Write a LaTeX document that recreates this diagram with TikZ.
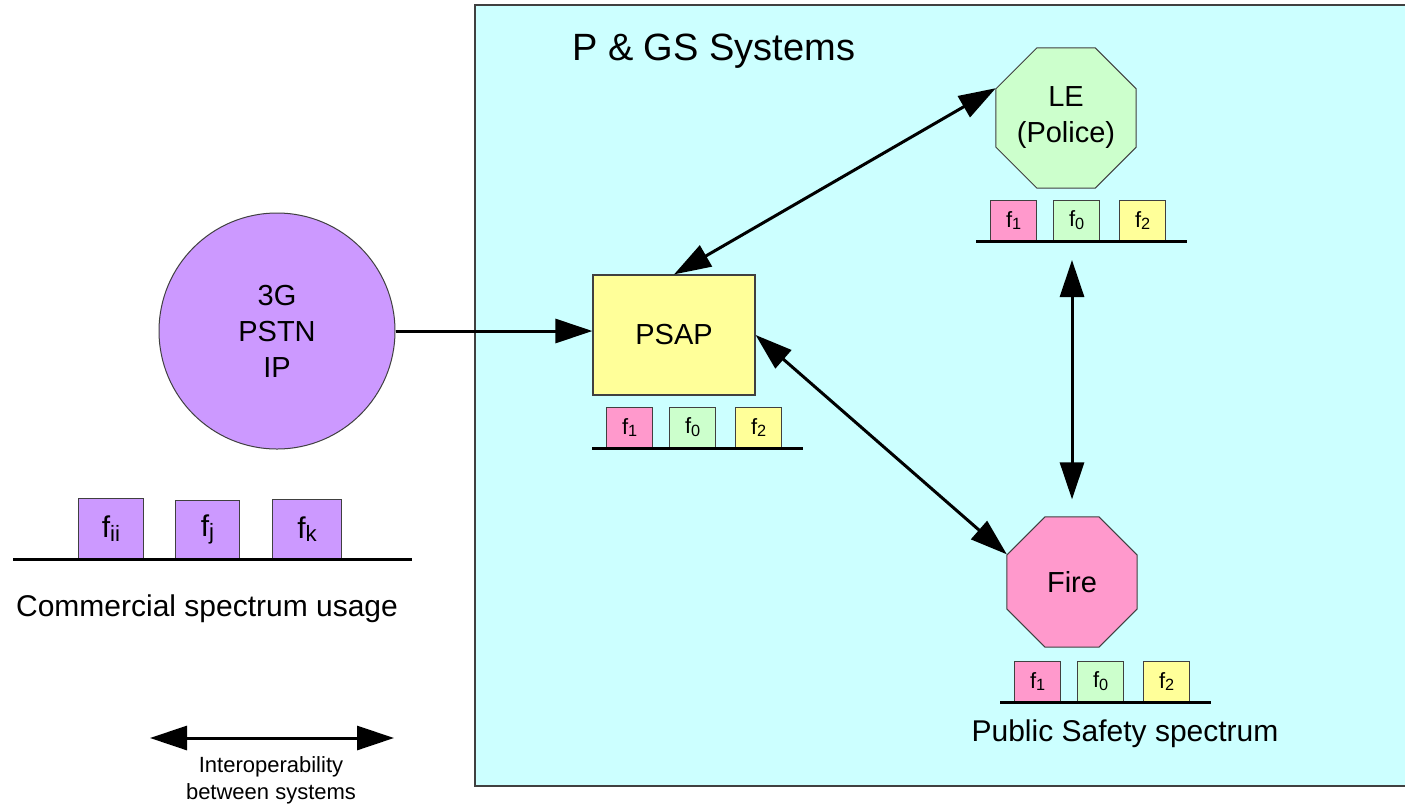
\documentclass[tikz,border=0pt]{standalone}
\usepackage{fontspec}
\usepackage{graphicx}
\setmainfont{Liberation Sans}
\usetikzlibrary{arrows.meta,shapes.geometric}

\definecolor{areafill}{HTML}{CCFFFF}
\definecolor{lavender}{HTML}{CC99FF}
\definecolor{psapfill}{HTML}{FFFF99}
\definecolor{lefill}{HTML}{CCFFCC}
\definecolor{firefill}{HTML}{FF99CC}
\definecolor{edge}{HTML}{404040}

% channel index: slightly smaller and a little below the baseline
\newcommand\chidx[1]{\raisebox{-0.12em}{\scalebox{0.74}{#1}}}

\tikzset{
  lbl/.style={font=\fontsize{29}{36}\selectfont, align=center},
  fbox/.style={draw=edge, line width=1.2pt, minimum width=46pt, minimum height=40pt,
    inner sep=0pt, anchor=south west, font=\fontsize{22}{22}\selectfont},
  cbox/.style={draw=edge, line width=1pt, fill=lavender, inner sep=0pt,
    anchor=south west, font=\fontsize{30}{30}\selectfont},
  specline/.style={line width=3pt},
  link/.style={line width=3pt, >={Triangle[length=37pt,width=24pt]}},
  octa/.style={regular polygon, regular polygon sides=8, draw=edge, line width=1pt,
    inner sep=0pt, lbl},
  % three channel boxes standing on a spectrum line
  band/.pic={
    \node[fbox, fill=firefill] (-a) at (0,0) {f\chidx{1}};
    \node[fbox, fill=lefill]   (-b) at (63,0) {f\chidx{0}};
    \node[fbox, fill=psapfill] (-c) at (129,0) {f\chidx{2}};
    \coordinate (-l) at (-14,0);
    \coordinate (-r) at (197,0);
    \draw[specline] (-l) -- (-r);
  }
}

\begin{document}
\begin{tikzpicture}[x=1pt,y=-1pt]
  \useasboundingbox (0,0) rectangle (1405,804);
  \fill[white] (0,0) rectangle (1405,804);

  % public and government safety area
  \draw[fill=areafill, draw=edge, line width=1.2pt] (475,5) rectangle (1420,786);
  \node[font=\fontsize{38}{40}\selectfont, anchor=base west, inner sep=0pt] (title)
    at (572,60) {P \& GS Systems};

  % systems
  \node[circle, draw=edge, line width=1pt, fill=lavender, minimum size=236pt,
    inner sep=0pt, lbl] (net) at (277,331) {3G\\PSTN\\IP};
  \node[rectangle, draw=edge, line width=1.2pt, fill=psapfill, minimum width=162pt,
    minimum height=120pt, inner sep=0pt, lbl] (psap) at (674,335) {PSAP};
  \node[octa, fill=lefill, minimum size=152pt] (le) at (1066,118) {LE\\(Police)};
  \node[octa, fill=firefill, minimum size=141pt] (fire) at (1072,582) {Fire};

  % public safety channels
  \pic (pband) at (606,448) {band};
  \pic (lband) at (990,241) {band};
  \pic (fband) at (1014,702) {band};

  % commercial channels
  \node[cbox, minimum width=65pt, minimum height=60pt] (cii) at (78,559) {f\chidx{ii}};
  \node[cbox, minimum width=64pt, minimum height=58pt] (cj) at (175,559) {f\chidx{j}};
  \node[cbox, minimum width=69pt, minimum height=59pt] (ck) at (272,559) {f\chidx{k}};
  \coordinate (cl) at (13,559);
  \coordinate (cr) at (412,559);
  \draw[specline] (cl) -- (cr);

  % captions
  \node[font=\fontsize{30}{36}\selectfont] (ccap) at (207,609) {Commercial spectrum usage};
  \node[font=\fontsize{30}{36}\selectfont] (pcap) at (1125,734) {Public Safety spectrum};

  % legend
  \coordinate (ia) at (150,738);
  \coordinate (ib) at (394,738);
  \draw[link,<->] (ia) -- (ib);
  \node[font=\fontsize{22}{27}\selectfont, align=center] (icap) at (271,780)
    {Interoperability\\between systems};

  % links
  \draw[link,->] (net.east) -- (net.east -| psap.west);
  \draw[link,<->] (psap.north) -- (le.157.5);
  \draw[link,<->] (psap.east) -- (fire.157.5);
  \draw[link,<->,shorten <=19pt,shorten >=17pt] (lband-l -| fire.north) -- (fire.north);
\end{tikzpicture}
\end{document}
